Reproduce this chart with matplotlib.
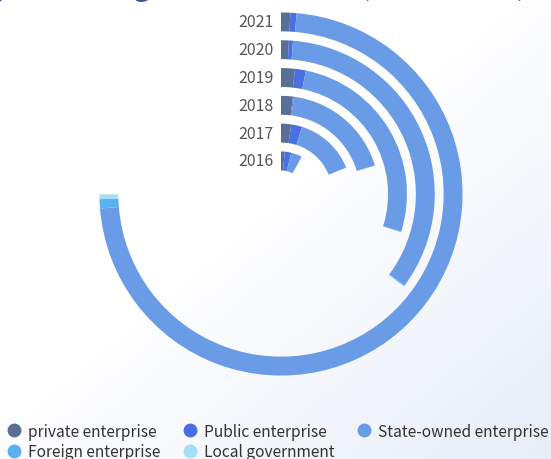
import numpy as np
import matplotlib
matplotlib.use("Agg")
import matplotlib.pyplot as plt
from matplotlib.lines import Line2D

plt.rcParams['font.family'] = ['Noto Sans CJK SC', 'DejaVu Sans']

# radial categories, innermost first
years = ['2016', '2017', '2018', '2019', '2020', '2021']

# stacked values per ownership type (angle axis runs 0..ANGLE_MAX clockwise)
private = [5.6, 9.4, 7.8, 7.1, 3.3, 3.3]
public = [10.0, 10.0, 0.6, 5.6, 1.7, 2.2]
state_owned = [16.7, 56.1, 72.8, 106.7, 135.6, 289.4]
foreign = [0.0, 0.0, 0.0, 0.2, 0.3, 3.3]
local_gov = [0.0, 0.0, 0.0, 0.0, 0.2, 1.7]
ANGLE_MAX = 400

series = [
    ('private enterprise', private, '#5a6f96'),
    ('Public enterprise', public, '#4a6fe3'),
    ('State-owned enterprise', state_owned, '#6a9be6'),
    ('Foreign enterprise', foreign, '#5ab1ef'),
    ('Local government', local_gov, '#a6ddf8'),
]

W, H = 551, 460
fig = plt.figure(figsize=(W / 100, H / 100), dpi=100)

# soft diagonal background wash
bg = fig.add_axes([0, 0, 1, 1], zorder=-10)
xx, yy = np.meshgrid(np.linspace(0, 1, 200), np.linspace(0, 1, 200))
t = np.clip(((xx + yy) / 2 - 0.45) / 0.55, 0, 1)
white = np.array([1.0, 1.0, 1.0])
tint = np.array([0.91, 0.93, 0.975])
img = white[None, None, :] * (1 - t[..., None]) + tint[None, None, :] * t[..., None]
bg.imshow(img, extent=[0, 1, 0, 1], aspect='auto', interpolation='bilinear')
bg.axis('off')

# polar axes: centre (281, 195) px, outer radius 186 px
cx, cy, R = 281, 195, 186
ax = fig.add_axes([(cx - R) / W, (H - cy - R) / H, 2 * R / W, 2 * R / H],
                  projection='polar')
ax.set_theta_zero_location('N')
ax.set_theta_direction(-1)
ax.set_rlim(-0.5, 5.5)
ax.set_rorigin(-1.19)
ax.axis('off')

pos = np.arange(len(years))
left = np.zeros(len(years))
for name, vals, color in series:
    vals = np.array(vals, dtype=float)
    width = vals / ANGLE_MAX * 2 * np.pi
    ax.barh(pos, width, left=left, height=0.68, color=color,
            linewidth=0, label=name)
    left = left + width

for i, y in enumerate(years):
    ax.annotate(y, xy=(0, i), xytext=(-7, 0), textcoords='offset pixels',
                ha='right', va='center', fontsize=11.5, color='#555555')

# title sits above the canvas, only its descenders show
title_head = 'Industry financing scale in China '
title_tail = '(2016-2021)'
title_kw = dict(fontsize=22, color='#3a5199', va='baseline')
renderer = fig.canvas.get_renderer()
probe = fig.text(0, 0, title_head, **title_kw)
head_w = probe.get_window_extent(renderer).width
probe.remove()
fig.text((360 - head_w) / W, 1 + 4.5 / H, title_head + title_tail, ha='left', **title_kw)

handles = [Line2D([], [], marker='o', linestyle='', markersize=10,
                  markerfacecolor=c, markeredgewidth=0) for _, _, c in series]
labels = [n for n, _, _ in series]
order = [0, 3, 1, 4, 2]
fig.legend([handles[i] for i in order], [labels[i] for i in order],
           loc='lower left', bbox_to_anchor=(-0.014, -0.033), ncol=3,
           frameon=False, fontsize=11.2, handletextpad=0.4,
           columnspacing=1.4, labelspacing=0.22, labelcolor='#333333',
           handlelength=1.0)

fig.savefig('out.png', dpi=100)
